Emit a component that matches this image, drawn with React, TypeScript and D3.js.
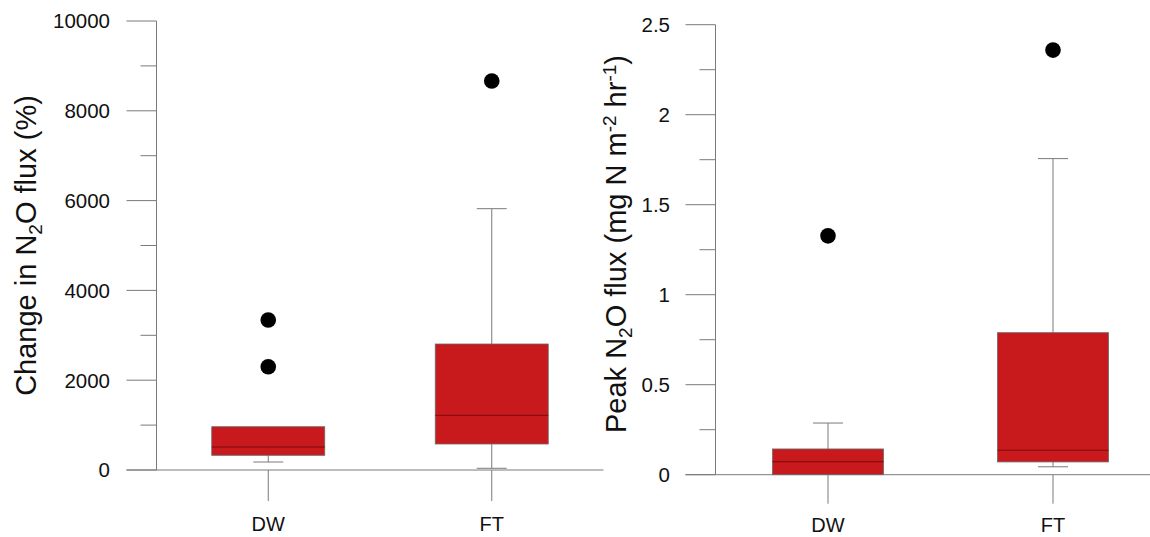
import React from "react";
import * as d3 from "d3";

const categories = ["DW", "FT"];

// Left panel: change in N2O flux (%)
const changeQ1 = [327, 579];
const changeMedian = [512, 1218];
const changeQ3 = [964, 2806];
const changeLow = [178, 38];
const changeHigh = [964, 5820];
const changeOutliers = [[3340, 2300], [8664]];
const changeTicks = [0, 2000, 4000, 6000, 8000, 10000];
const changeMinor = [1000, 3000, 5000, 7000, 9000];

// Right panel: peak N2O flux (mg N m-2 hr-1)
const peakQ1 = [0, 0.071];
const peakMedian = [0.072, 0.136];
const peakQ3 = [0.143, 0.789];
const peakLow = [0, 0.044];
const peakHigh = [0.287, 1.756];
const peakOutliers = [[1.327], [2.359]];
const peakTicks = [0, 0.5, 1, 1.5, 2, 2.5];
const peakMinor = [0.25, 0.75, 1.25, 1.75, 2.25];

const FONT = "'Liberation Sans', Arial, Helvetica, sans-serif";
const AXIS = "#7a7a7a";
const FILL = "#c8191d";
const MED = "#7d0a0a";

type PanelProps = {
  q1: number[]; med: number[]; q3: number[]; lo: number[]; hi: number[]; out: number[][];
  ticks: number[]; minor: number[]; domainMax: number;
  axisX: number; xEnd: number; y0: number; yTop: number; labelX: number;
  catLabelY: number; tickDown: number; boxW: number;
};

function Panel(p: PanelProps) {
  const y = d3.scaleLinear().domain([0, p.domainMax]).range([p.y0, p.yTop]);
  const x = d3.scalePoint<string>().domain(categories).range([p.axisX, p.xEnd]).padding(0.5);
  const capW = 30;
  return (
    <g>
      <line x1={p.axisX} x2={p.axisX} y1={y(p.domainMax)} y2={p.y0} stroke={AXIS} strokeWidth={1} />
      {p.ticks.map((t) => (
        <g key={"t" + t}>
          <line x1={p.axisX - 30} x2={p.axisX} y1={y(t)} y2={y(t)} stroke={AXIS} strokeWidth={1} />
          <text x={p.labelX} y={y(t)} dy="0.36em" textAnchor="end" fontSize={20.5} fontFamily={FONT} fill="#111">
            {String(t)}
          </text>
        </g>
      ))}
      {p.minor.map((t) => (
        <line key={"m" + t} x1={p.axisX - 16} x2={p.axisX} y1={y(t)} y2={y(t)} stroke={AXIS} strokeWidth={1} />
      ))}
      <line x1={p.axisX - 30} x2={p.xEnd} y1={p.y0} y2={p.y0} stroke={AXIS} strokeWidth={1} />
      {categories.map((c, i) => {
        const cx = x(c) as number;
        return (
          <g key={c}>
            <line x1={cx} x2={cx} y1={p.y0} y2={p.y0 + p.tickDown} stroke={AXIS} strokeWidth={1} />
            <text x={cx} y={p.catLabelY} textAnchor="middle" fontSize={20} fontFamily={FONT} fill="#111">{c}</text>
            {p.hi[i] > p.q3[i] && (
              <g>
                <line x1={cx} x2={cx} y1={y(p.q3[i])} y2={y(p.hi[i])} stroke={AXIS} strokeWidth={1} />
                <line x1={cx - capW / 2} x2={cx + capW / 2} y1={y(p.hi[i])} y2={y(p.hi[i])} stroke={AXIS} strokeWidth={1} />
              </g>
            )}
            {p.lo[i] < p.q1[i] && (
              <g>
                <line x1={cx} x2={cx} y1={y(p.q1[i])} y2={y(p.lo[i])} stroke={AXIS} strokeWidth={1} />
                <line x1={cx - capW / 2} x2={cx + capW / 2} y1={y(p.lo[i])} y2={y(p.lo[i])} stroke={AXIS} strokeWidth={1} />
              </g>
            )}
            <rect x={cx - p.boxW / 2} width={p.boxW} y={y(p.q3[i])} height={y(p.q1[i]) - y(p.q3[i])}
              fill={FILL} stroke="#6a6a6a" strokeWidth={0.8} />
            <line x1={cx - p.boxW / 2} x2={cx + p.boxW / 2} y1={y(p.med[i])} y2={y(p.med[i])} stroke={MED} strokeWidth={1} />
            {p.out[i].map((v, k) => (
              <circle key={k} cx={cx} cy={y(v)} r={7.8} fill="#000" />
            ))}
          </g>
        );
      })}
    </g>
  );
}

export default function App() {
  return (
    <svg width={1150} height={537} style={{ position: "absolute", left: 0, top: 0, background: "#fff" }}>
      <rect width={1150} height={537} fill="#fff" />
      <Panel q1={changeQ1} med={changeMedian} q3={changeQ3} lo={changeLow} hi={changeHigh} out={changeOutliers}
        ticks={changeTicks} minor={changeMinor} domainMax={10000}
        axisX={156.5} xEnd={603.5} y0={470} yTop={21} labelX={110} catLabelY={531} tickDown={31} boxW={113} />
      <Panel q1={peakQ1} med={peakMedian} q3={peakQ3} lo={peakLow} hi={peakHigh} out={peakOutliers}
        ticks={peakTicks} minor={peakMinor} domainMax={2.5}
        axisX={715.5} xEnd={1165.5} y0={474.7} yTop={24.7} labelX={670} catLabelY={532} tickDown={29} boxW={111} />
      <text transform="translate(36,245.5) rotate(-90)" textAnchor="middle" fontSize={29} fontFamily={FONT} fill="#111">
        Change in N<tspan fontSize={19} dy={6}>2</tspan><tspan dy={-6}>O flux (%)</tspan>
      </text>
      <text transform="translate(626,244) rotate(-90)" textAnchor="middle" fontSize={29} fontFamily={FONT} fill="#111">
        Peak N<tspan fontSize={19} dy={6}>2</tspan><tspan dy={-6}>O flux (mg N m</tspan>
        <tspan fontSize={19} dy={-10}>-2</tspan><tspan dy={10}> hr</tspan>
        <tspan fontSize={19} dy={-10}>-1</tspan><tspan dy={10}>)</tspan>
      </text>
    </svg>
  );
}
